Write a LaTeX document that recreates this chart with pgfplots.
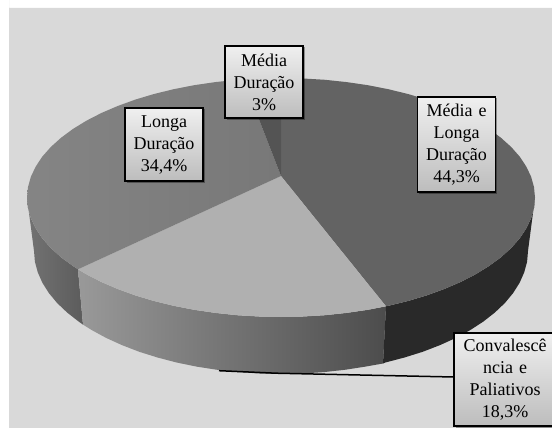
\documentclass[border=0pt]{standalone}
\usepackage{pgfplots}
\pgfplotsset{compat=1.18}
\usepackage{fontspec}
\setmainfont{Liberation Serif}
\usetikzlibrary{shadows}
\definecolor{panel}{HTML}{D9D9D9}
\tikzset{lab/.style={draw=black,line width=1.7pt,top color=white!94!black,bottom color=white!74!black,
  align=center,inner sep=0pt,font=\fontsize{18}{22}\selectfont,
  drop shadow={shadow xshift=1.5pt,shadow yshift=-1.5pt,fill=black,opacity=.35}}}
\begin{document}
\begin{tikzpicture}
\begin{axis}[width=552pt,height=428pt,scale only axis,hide axis,
  xmin=0,xmax=552,ymin=0,ymax=428,y dir=reverse,clip=true]
% panel
\addplot[fill=white,draw=none] coordinates {(0,0)(552,0)(552,428)(0,428)} \closedcycle;
\addplot[fill=panel,draw=none] coordinates {(9,8)(552,8)(552,428)(9,428)} \closedcycle;
% side: Longa Duracao
\addplot[draw=none,left color=black!55,right color=black!64] coordinates {
(27,197.5)(28,207.9)(30.9,218.3)(35.7,228.4)(42.3,238.4)(50.8,248)(61,257.25)(72.9,266)(78,269.3)
(83,324.6)(78.7,321.6)(67.1,312.5)(57.1,303)(48.9,293.1)(42.4,282.8)(37.8,272.4)(34.9,261.7)(34,251)} --cycle;
% side: Convalescencia
\addplot[draw=none,left color=black!40,right color=black!70] coordinates {
(78,269.3)(86.4,274.3)(101.4,282)(117.7,289)(135.3,295.4)(154,301)(173.7,305.8)(194.1,309.8)(215.3,312.9)(236.9,315.2)(258.9,316.5)(281,317)(303.1,316.5)(325.1,315.2)(346.7,312.9)(367.9,309.8)(386,306.3)
(383,363.5)(365.5,366.6)(344.9,369.8)(323.9,372.1)(302.5,373.5)(281,374)(259.5,373.5)(238.1,372.1)(217.1,369.8)(196.5,366.6)(176.6,362.5)(157.5,357.5)(139.3,351.8)(122.2,345.2)(106.3,338)(91.8,330.1)(83,324.6)} --cycle;
% side: Media e Longa
\addplot[draw=none,fill=black!84] coordinates {
(386,306.3)(388.3,305.8)(408,301)(426.7,295.4)(444.3,289)(460.6,282)(475.6,274.3)(489.1,266)(501,257.25)(511.2,248)(519.7,238.4)(526.3,228.4)(531.1,218.3)(534,207.9)(535,197.5)
(528,251)(527.1,261.7)(524.2,272.4)(519.6,282.8)(513.1,293.1)(504.9,303)(494.9,312.5)(483.3,321.6)(470.2,330.1)(455.7,338)(439.8,345.2)(422.7,351.8)(404.5,357.5)(385.4,362.5)(383,363.5)} --cycle;
% top: Media e Longa
\addplot[draw=none,fill=black!61] coordinates {
(281,176)(281,78)(303.1,78.5)(325.1,79.8)(346.7,82.1)(367.9,85.2)(388.3,89.2)(408,94)(426.7,99.6)(444.3,106)(460.6,113)(475.6,120.7)(489.1,129)(501,137.8)(511.2,147)(519.7,156.6)(526.3,166.6)(531.1,176.7)(534,187.1)(535,197.5)(534,207.9)(531.1,218.3)(526.3,228.4)(519.7,238.4)(511.2,248)(501,257.25)(489.1,266)(475.6,274.3)(460.6,282)(444.3,289)(426.7,295.4)(408,301)(388.3,305.8)(386,306.3)} --cycle;
% top: Convalescencia
\addplot[draw=none,fill=black!31] coordinates {
(281,176)(386,306.3)(367.9,309.8)(346.7,312.9)(325.1,315.2)(303.1,316.5)(281,317)(258.9,316.5)(236.9,315.2)(215.3,312.9)(194.1,309.8)(173.7,305.8)(154,301)(135.3,295.4)(117.7,289)(101.4,282)(86.4,274.3)(78,269.3)} --cycle;
% top: Longa Duracao
\addplot[draw=none,left color=black!48,right color=black!53] coordinates {
(281,176)(78,269.3)(72.9,266)(61,257.25)(50.8,248)(42.3,238.4)(35.7,228.4)(30.9,218.3)(28,207.9)(27,197.5)(28,187.1)(30.9,176.7)(35.7,166.6)(42.3,156.6)(50.8,147)(61,137.8)(72.9,129)(86.4,120.7)(101.4,113)(117.7,106)(135.3,99.6)(154,94)(173.7,89.2)(194.1,85.2)(215.3,82.1)(236.9,79.8)(243.4,79.3)} --cycle;
% top: Media Duracao
\addplot[draw=none,fill=black!67] coordinates {
(281,176)(243.4,79.3)(258.9,78.5)(281,78)} --cycle;
% leader
\addplot[black,line width=1.5pt] coordinates {(219,370.7)(276,373.2)(454,377)};
\node[lab,text width=78pt,minimum height=72pt] at (axis cs:264,82) {Média\\Duração\\3\%};
\node[lab,text width=78pt,minimum height=73pt] at (axis cs:164,144.5) {Longa\\Duração\\34,4\%};
\node[lab,text width=78pt,minimum height=95pt] at (axis cs:456.5,144.5) {Média e\\Longa\\Duração\\44,3\%};
\node[lab,overlay,text width=102pt,minimum height=93pt] at (axis cs:505,379.5) {Convalescê\\ncia e\\Paliativos\\18,3\%};
\end{axis}
\end{tikzpicture}
\end{document}
